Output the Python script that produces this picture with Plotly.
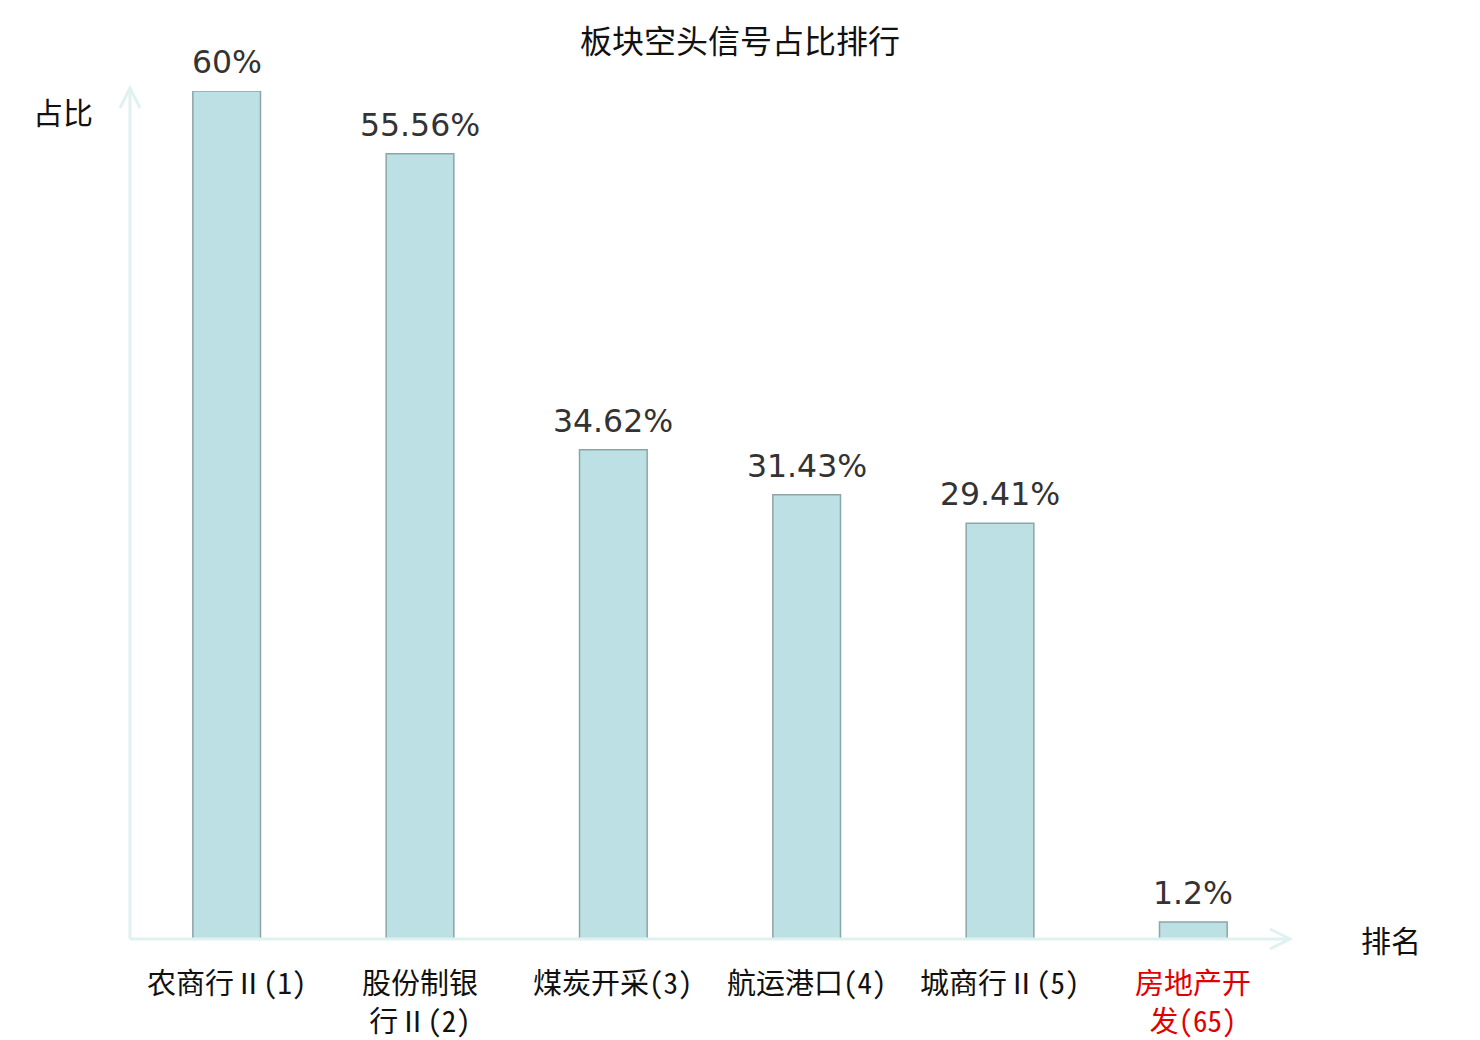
import plotly.graph_objects as go

# data
categories = ['农商行Ⅱ(1)', '股份制银<br>行Ⅱ(2)', '煤炭开采(3)', '航运港口(4)', '城商行Ⅱ(5)', '房地产开<br>发(65)']
ratios = [60, 55.56, 34.62, 31.43, 29.41, 1.2]
highlight = [False, False, False, False, False, True]

# the page adds an 8px body margin, so the figure is 8px smaller and shifted
W, H = 1472, 1032
L, R, T, B = 122, 190, 83, 101
pw, ph = W - L - R, H - T - B

axis_col = '#dff2ef'
cjk = 'Noto Sans Mono CJK SC, Noto Sans CJK SC'

fig = go.Figure()
fig.add_trace(go.Bar(
    x=list(range(len(categories))), y=ratios, width=0.35,
    marker=dict(color='#bce0e3', line=dict(color='#8aa6a8', width=1.5)),
    hoverinfo='skip'))

# value labels above bars
for i, v in enumerate(ratios):
    fig.add_annotation(x=i, y=v, text=f"{v:g}%", showarrow=False,
                       yanchor='bottom', yshift=9,
                       font=dict(family='DejaVu Sans', size=31.5, color='#333333'))

# category labels under the axis
for i, (c, h) in enumerate(zip(categories, highlight)):
    fig.add_annotation(x=i, xref='x', y=0, yref='paper', text=c, showarrow=False,
                       xanchor='center', yanchor='top', yshift=-19,
                       font=dict(family=cjk, size=29,
                                 color='#e00000' if h else '#111111'))

# axis lines with open arrowheads (paper coords)
dx, dy = 20 / pw, 20 / ph
fig.add_shape(type='line', xref='paper', yref='paper', x0=0, y0=0, x1=0, y1=1 + 3 / ph,
              line=dict(color=axis_col, width=3))
fig.add_shape(type='path', xref='paper', yref='paper',
              path=f"M {-10/pw} {1 - dy + 3/ph} L 0 {1 + 3/ph} L {10/pw} {1 - dy + 3/ph}",
              line=dict(color=axis_col, width=3))
fig.add_shape(type='line', xref='paper', yref='paper', x0=0, y0=0, x1=1, y1=0,
              line=dict(color=axis_col, width=3))
fig.add_shape(type='path', xref='paper', yref='paper',
              path=f"M {1 - dx} {10/ph} L 1 0 L {1 - dx} {-10/ph}",
              line=dict(color=axis_col, width=3))

# axis names
fig.add_annotation(xref='paper', yref='paper', x=-67 / pw, y=1 - 20 / ph, text='占比',
                   xanchor='center', yanchor='middle', showarrow=False,
                   font=dict(family=cjk, size=30, color='#111111'))
fig.add_annotation(xref='paper', yref='paper', x=1 + 101 / pw, y=0, text='排名',
                   xanchor='center', yanchor='middle', showarrow=False,
                   font=dict(family=cjk, size=30, color='#111111'))

fig.update_layout(
    width=W, height=H,
    margin=dict(l=L, r=R, t=T, b=B),
    paper_bgcolor='white', plot_bgcolor='white',
    showlegend=False,
    title=dict(text='板块空头信号占比排行', x=732 / W, xref='container', xanchor='center',
               y=1 - 34 / H, yref='container', yanchor='middle',
               font=dict(family=cjk, size=32, color='#111111')),
    xaxis=dict(range=[-0.5, len(categories) - 0.5], showgrid=False, zeroline=False,
               showline=False, showticklabels=False, ticks='', automargin=False),
    yaxis=dict(range=[0, 60], showgrid=False, zeroline=False, showline=False,
               showticklabels=False, ticks='', automargin=False),
)

fig.write_html("out.html")
